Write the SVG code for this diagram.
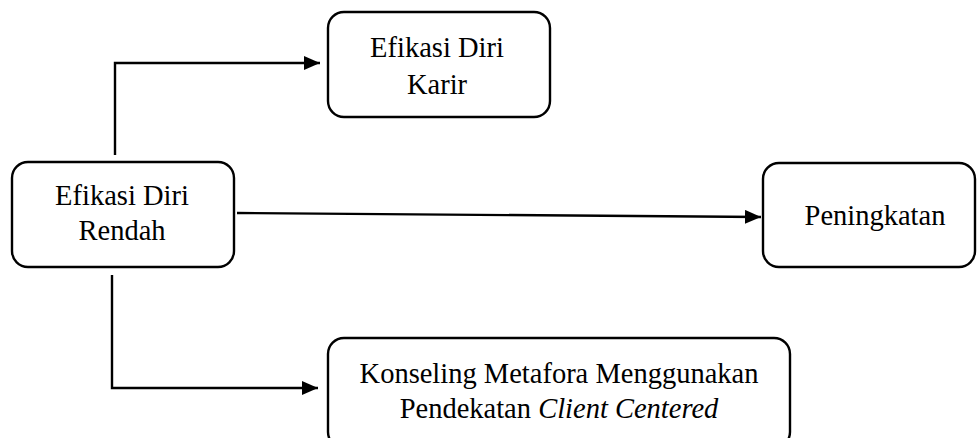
<svg xmlns="http://www.w3.org/2000/svg" width="977" height="438" viewBox="0 0 977 438">
<style>
.box{fill:#fff;stroke:#000;stroke-width:2.4}
.t{font-family:'Liberation Serif','DejaVu Serif',serif;font-size:28.5px;fill:#000;text-anchor:middle}
.c{fill:none;stroke:#000;stroke-width:2.4}
</style>
<defs>
<marker id="ah" viewBox="0 0 16 14" refX="16" refY="7" markerWidth="16" markerHeight="14" markerUnits="userSpaceOnUse" orient="auto">
<path d="M0,0 L16,7 L0,14 Z" fill="#000"/>
</marker>
</defs>
<rect width="977" height="438" fill="#fff"/>
<g id="connectors">
<path class="c" d="M115,155 V63 H320" marker-end="url(#ah)"/>
<path class="c" d="M237,213 L761,217" marker-end="url(#ah)"/>
<path class="c" d="M112,275 V388 H318" marker-end="url(#ah)"/>
</g>
<g id="node-karir">
<rect class="box" x="328" y="12" width="222" height="105" rx="16"/>
<text class="t" x="437" y="57" font-family="Liberation Serif, serif">Efikasi Diri</text>
<text class="t" x="437" y="94" font-family="Liberation Serif, serif">Karir</text>
</g>
<g id="node-rendah">
<rect class="box" x="12" y="162" width="222" height="105" rx="16"/>
<text class="t" x="122" y="205">Efikasi Diri</text>
<text class="t" x="122" y="240">Rendah</text>
</g>
<g id="node-peningkatan">
<rect class="box" x="763" y="163" width="212" height="104" rx="16"/>
<text class="t" x="875" y="225">Peningkatan</text>
</g>
<g id="node-konseling">
<rect class="box" x="328" y="338" width="462" height="110" rx="16"/>
<text class="t" x="559" y="383">Konseling Metafora Menggunakan</text>
<text class="t" x="559" y="418">Pendekatan <tspan font-style="italic">Client Centered</tspan></text>
</g>
</svg>
